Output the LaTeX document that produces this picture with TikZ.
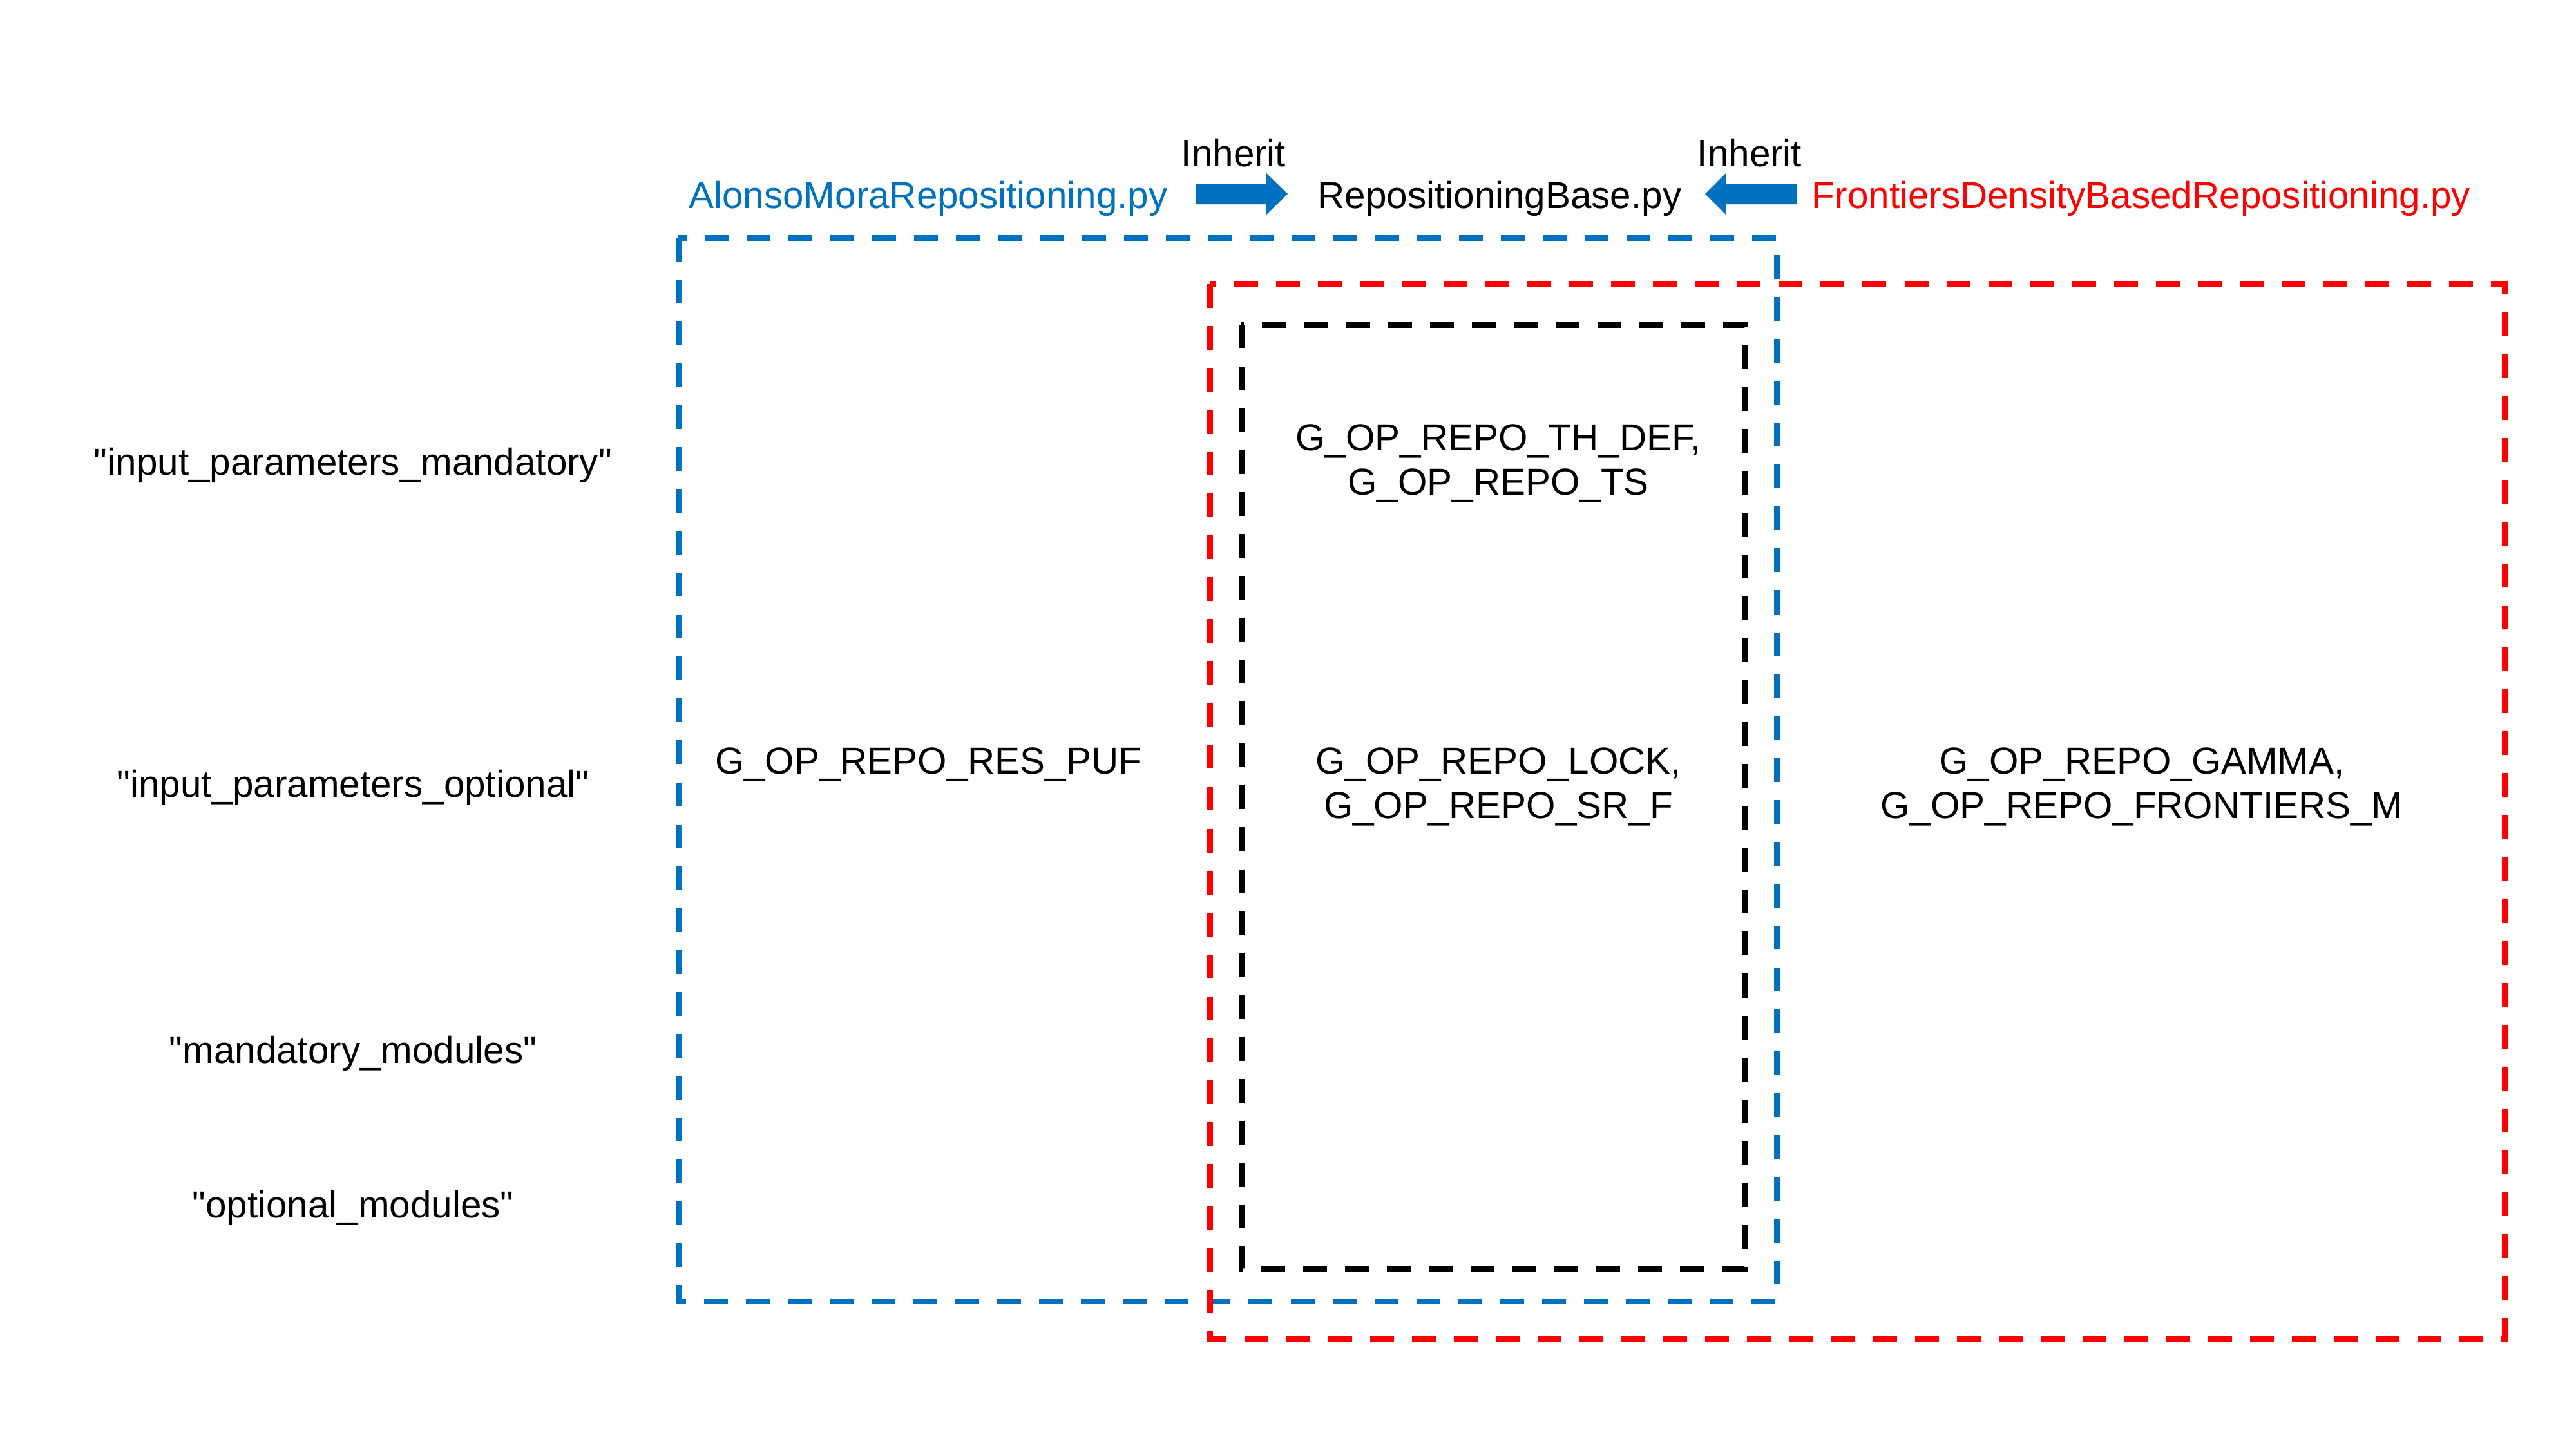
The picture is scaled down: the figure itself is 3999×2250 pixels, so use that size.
\documentclass[tikz,border=0pt]{standalone}
\usepackage{fontspec}
\setmainfont{Liberation Sans}[Ligatures=TeXOff]
\definecolor{pblue}{HTML}{0070C0}
\definecolor{pred}{HTML}{FF0000}
\begin{document}
\begin{tikzpicture}[x=0.01cm,y=-0.01cm,
  lbl/.style={font=\fontsize{16.6}{19.6}\selectfont, inner sep=0pt, anchor=base, align=center},
  dbox/.style={line width=0.09cm, dash pattern=on 0.37cm off 0.28cm},
  blockarrow/.style={fill=pblue, draw=none}]
\useasboundingbox (0,0) rectangle (3999,2250);
% boxes
\draw[dbox, pblue] (1053,369) rectangle (2758,2020);
\draw[dbox, pred] (1878,441) rectangle (3888,2078);
\draw[dbox, black] (1927,504) rectangle (2708,1969);
% headers
\node[lbl, text=pblue] (alonso) at (1441,323) {AlonsoMoraRepositioning.py};
\node[lbl] (base) at (2328,323) {RepositioningBase.py};
\node[lbl, text=pred] (front) at (3324,323) {FrontiersDensityBasedRepositioning.py};
\node[lbl] (inh1) at (1915,258) {Inherit};
\node[lbl] (inh2) at (2716,258) {Inherit};
% block arrows
\fill[blockarrow] (1856,285) -- (1966,285) -- (1966,269) -- (1999,301) -- (1966,333) -- (1966,317) -- (1856,317) -- cycle;
\fill[blockarrow] (2789,285) -- (2679,285) -- (2679,269) -- (2647,301) -- (2679,333) -- (2679,317) -- (2789,317) -- cycle;
% left labels
\node[lbl] (ipm) at (548,737) {"input\_parameters\_mandatory"};
\node[lbl] (ipo) at (548,1237) {"input\_parameters\_optional"};
\node[lbl] (mm) at (548,1650) {"mandatory\_modules"};
\node[lbl] (om) at (548,1890) {"optional\_modules"};
% contents
\node[lbl] (puf) at (1441,1201) {G\_OP\_REPO\_RES\_PUF};
\node[lbl] (thdef) at (2326,768) {G\_OP\_REPO\_TH\_DEF,\\G\_OP\_REPO\_TS};
\node[lbl] (lock) at (2326,1270) {G\_OP\_REPO\_LOCK,\\G\_OP\_REPO\_SR\_F};
\node[lbl] (gamma) at (3325,1270) {G\_OP\_REPO\_GAMMA,\\G\_OP\_REPO\_FRONTIERS\_M};
\end{tikzpicture}
\end{document}
